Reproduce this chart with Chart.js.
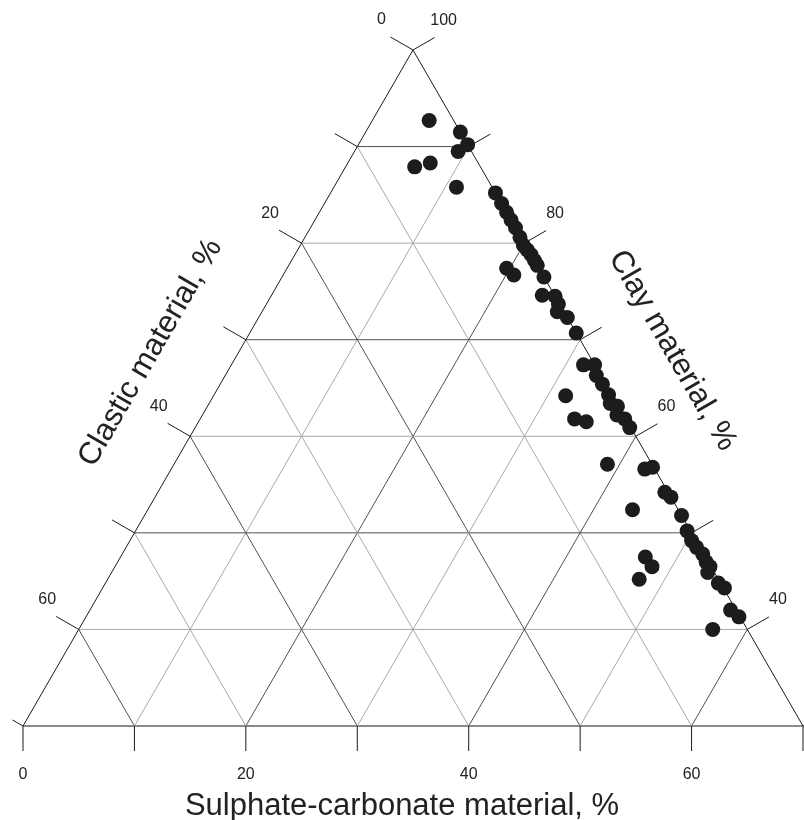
<!DOCTYPE html>
<html>
<head>
<meta charset="utf-8">
<script src="https://cdn.jsdelivr.net/npm/chart.js@4"></script>
<style>
  body { margin: 0; background: #fff; overflow: hidden; }
  #wrap { width: 804px; height: 820px; position: relative; }
</style>
</head>
<body>
<div id="wrap"><canvas id="ternChart"></canvas></div>
<script>
// Sulphate-carbonate and clay content of each sample (%), clastic = 100 - both
const sulphate = [5.1, 8.5, 9.8, 9.3, 7.4, 6.2, 11.0, 14.8, 15.9, 16.8, 17.6, 18.4, 19.3, 20.0, 20.6, 21.2,
    21.8, 22.3, 23.5, 19.7, 20.7, 24.3, 25.5, 26.2, 26.5, 27.7, 29.3, 31.6, 32.6, 33.3, 34.3, 35.4,
    36.0, 36.8, 37.2, 38.1, 39.0, 31.6, 33.6, 34.8, 38.9, 42.5, 43.1, 45.5, 46.3, 48.2, 43.5, 49.5,
    50.4, 51.2, 52.1, 52.8, 53.4, 53.5, 55.0, 55.8, 57.5, 58.6, 47.1, 48.2, 47.7, 56.9];
const clay = [92.7, 91.5, 90.2, 89.5, 88.3, 87.9, 85.8, 85.2, 84.1, 83.2, 82.4, 81.6, 80.6, 79.8, 79.3, 78.8,
    78.2, 77.7, 76.5, 77.4, 76.7, 74.6, 74.5, 73.7, 72.9, 72.3, 70.7, 67.4, 67.4, 66.3, 65.4, 64.3,
    63.4, 63.1, 62.2, 61.8, 60.9, 64.2, 61.8, 61.5, 57.1, 56.6, 56.8, 54.2, 53.7, 51.8, 52.4, 50.2,
    49.2, 48.5, 47.8, 47.0, 46.5, 45.9, 44.8, 44.3, 42.0, 41.3, 47.5, 46.5, 45.2, 40.0];

// axis ranges and tick labels
const clayMin = 30, clayMax = 100;
const gridSteps = [0, 10, 20, 30, 40, 50, 60, 70];
const bottomLabels = [0, 20, 40, 60];        // sulphate-carbonate
const leftLabels = [0, 20, 40, 60];          // clastic
const rightLabels = [100, 80, 60, 40];       // clay

const FONT = '"Liberation Sans", Arial, sans-serif';

// ternary -> cartesian (x along bottom, y = clay)
function toXY(s, c) {
    return { x: s + (c - clayMin) / 2, y: c };
}

const points = sulphate.map((s, i) => toXY(s, clay[i]));

const ternaryPlugin = {
    id: 'ternary',
    beforeDatasetsDraw(chart) {
        const ctx = chart.ctx;
        const xs = chart.scales.x, ys = chart.scales.y;
        const px = (s, c) => {
            const p = toXY(s, c);
            return [xs.getPixelForValue(p.x), ys.getPixelForValue(p.y)];
        };
        const line = (a, b, color, w) => {
            ctx.beginPath();
            ctx.moveTo(a[0], a[1]);
            ctx.lineTo(b[0], b[1]);
            ctx.strokeStyle = color;
            ctx.lineWidth = w;
            ctx.stroke();
        };
        ctx.save();
        // inner grid
        for (let v = 10; v <= 60; v += 10) {
            const col = v % 20 === 0 ? '#505050' : '#a8a8a8';
            // clay = const
            const c = clayMin + v;
            line(px(0, c), px(100 - c, c), col, 1);
            // sulphate = const
            line(px(v, clayMin), px(v, 100 - v), col, 1);
            // clastic = const
            line(px(70 - v, clayMin), px(0, 100 - v), col, 1);
        }
        // edges
        line(px(0, clayMin), px(70, clayMin), '#8a8a8a', 2);
        line(px(0, clayMin), px(0, clayMax), '#1a1a1a', 1);
        line(px(70, clayMin), px(0, clayMax), '#1a1a1a', 1);

        // ticks
        const cos30 = Math.cos(Math.PI / 6), sin30 = 0.5;
        gridSteps.forEach(v => {
            const b = px(v, clayMin);
            line(b, [b[0], b[1] + 25], '#1a1a1a', 1);
            const l = px(0, clayMin + v);
            const len = v === 0 ? 12 : 26;
            line(l, [l[0] - cos30 * len, l[1] - sin30 * len], '#1a1a1a', 1);
            const r = px(70 - v, clayMin + v);
            line(r, [r[0] + cos30 * 25, r[1] - sin30 * 25], '#1a1a1a', 1);
        });

        // tick labels
        ctx.fillStyle = '#222';
        ctx.font = '16px ' + FONT;
        ctx.textAlign = 'center';
        ctx.textBaseline = 'middle';
        bottomLabels.forEach(v => {
            const b = px(v, clayMin);
            ctx.fillText(String(v), b[0], b[1] + 49);
        });
        leftLabels.forEach(v => {
            const l = px(0, 100 - v);
            ctx.fillText(String(v), l[0] - cos30 * 26 - 9, l[1] - sin30 * 26 - 17);
        });
        rightLabels.forEach(v => {
            const r = px(100 - v, v);
            ctx.fillText(String(v), r[0] + cos30 * 25 + 9, r[1] - sin30 * 25 - 17);
        });

        // axis titles
        ctx.font = '31px ' + FONT;
        ctx.textBaseline = 'alphabetic';
        ctx.fillText('Sulphate-carbonate material, %', 402, 815);

        ctx.save();
        ctx.translate(158, 357);
        ctx.rotate(-Math.PI / 3);
        ctx.fillText('Clastic material, %', 0, 0);
        ctx.restore();

        ctx.save();
        ctx.translate(665, 355);
        ctx.rotate(Math.PI / 3);
        ctx.fillText('Clay material, %', 0, 0);
        ctx.restore();

        ctx.restore();
    }
};

new Chart(document.getElementById('ternChart').getContext('2d'), {
    type: 'scatter',
    data: {
        datasets: [{
            label: 'Samples',
            data: points,
            pointRadius: 7.5,
            pointHoverRadius: 7.5,
            backgroundColor: '#1c1c1c',
            borderWidth: 0,
            clip: false
        }]
    },
    options: {
        responsive: true,
        maintainAspectRatio: false,
        animation: false,
        layout: {
            autoPadding: false,
            padding: { left: 23, right: 1, top: 50, bottom: 94 }
        },
        plugins: {
            legend: { display: false },
            tooltip: { enabled: false }
        },
        scales: {
            x: { type: 'linear', min: 0, max: 70, display: false },
            y: { type: 'linear', min: clayMin, max: clayMax, display: false }
        }
    },
    plugins: [ternaryPlugin]
});
</script>
</body>
</html>
